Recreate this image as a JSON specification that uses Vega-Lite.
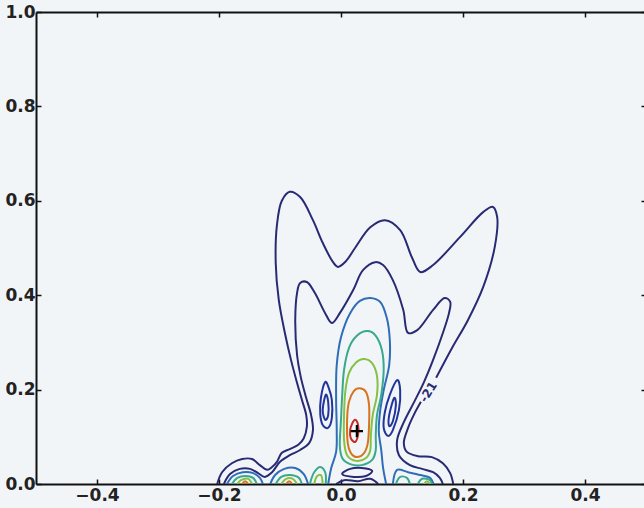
{
  "$schema": "https://vega.github.io/schema/vega-lite/v6.json",
  "width": 610,
  "height": 472,
  "autosize": {"type": "none"},
  "padding": {"left": 36, "top": 12, "right": 0, "bottom": 24},
  "background": "#f2f5f7",
  "config": {
    "view": {"stroke": null},
    "axis": {
      "domainColor": "#111111",
      "domainWidth": 2,
      "tickColor": "#111111",
      "tickWidth": 1.5,
      "tickSize": -5,
      "grid": false,
      "title": null,
      "labelFont": "DejaVu Sans",
      "labelFontSize": 17,
      "labelFontWeight": "bold",
      "labelColor": "#222222"
    }
  },
  "datasets": {
    "contours": [
      {"id": "A1", "l": 1, "c": 0, "i": 0, "x": -0.203, "y": 0.0},
      {"id": "A1", "l": 1, "c": 0, "i": 1, "x": -0.195, "y": 0.025},
      {"id": "A1", "l": 1, "c": 0, "i": 2, "x": -0.179, "y": 0.044},
      {"id": "A1", "l": 1, "c": 0, "i": 3, "x": -0.162, "y": 0.053},
      {"id": "A1", "l": 1, "c": 0, "i": 4, "x": -0.146, "y": 0.053},
      {"id": "A1", "l": 1, "c": 0, "i": 5, "x": -0.133, "y": 0.04},
      {"id": "A1", "l": 1, "c": 0, "i": 6, "x": -0.121, "y": 0.03},
      {"id": "A1", "l": 1, "c": 0, "i": 7, "x": -0.113, "y": 0.036},
      {"id": "A1", "l": 1, "c": 0, "i": 8, "x": -0.105, "y": 0.047},
      {"id": "A1", "l": 1, "c": 0, "i": 9, "x": -0.097, "y": 0.066},
      {"id": "A1", "l": 1, "c": 0, "i": 10, "x": -0.084, "y": 0.074},
      {"id": "A1", "l": 1, "c": 0, "i": 11, "x": -0.07, "y": 0.083},
      {"id": "A1", "l": 1, "c": 0, "i": 12, "x": -0.061, "y": 0.097},
      {"id": "A1", "l": 1, "c": 0, "i": 13, "x": -0.056, "y": 0.121},
      {"id": "A1", "l": 1, "c": 0, "i": 14, "x": -0.057, "y": 0.146},
      {"id": "A1", "l": 1, "c": 0, "i": 15, "x": -0.064, "y": 0.178},
      {"id": "A1", "l": 1, "c": 0, "i": 16, "x": -0.072, "y": 0.214},
      {"id": "A1", "l": 1, "c": 0, "i": 17, "x": -0.082, "y": 0.263},
      {"id": "A1", "l": 1, "c": 0, "i": 18, "x": -0.092, "y": 0.32},
      {"id": "A1", "l": 1, "c": 0, "i": 19, "x": -0.102, "y": 0.39},
      {"id": "A1", "l": 1, "c": 0, "i": 20, "x": -0.107, "y": 0.468},
      {"id": "A1", "l": 1, "c": 0, "i": 21, "x": -0.105, "y": 0.549},
      {"id": "A1", "l": 1, "c": 0, "i": 22, "x": -0.097, "y": 0.6},
      {"id": "A1", "l": 1, "c": 0, "i": 23, "x": -0.084, "y": 0.619},
      {"id": "A1", "l": 1, "c": 0, "i": 24, "x": -0.067, "y": 0.608},
      {"id": "A1", "l": 1, "c": 0, "i": 25, "x": -0.046, "y": 0.559},
      {"id": "A1", "l": 1, "c": 0, "i": 26, "x": -0.03, "y": 0.511},
      {"id": "A1", "l": 1, "c": 0, "i": 27, "x": -0.013, "y": 0.47},
      {"id": "A1", "l": 1, "c": 0, "i": 28, "x": -0.005, "y": 0.46},
      {"id": "A1", "l": 1, "c": 0, "i": 29, "x": 0.008, "y": 0.472},
      {"id": "A1", "l": 1, "c": 0, "i": 30, "x": 0.023, "y": 0.5},
      {"id": "A1", "l": 1, "c": 0, "i": 31, "x": 0.048, "y": 0.544},
      {"id": "A1", "l": 1, "c": 0, "i": 32, "x": 0.072, "y": 0.559},
      {"id": "A1", "l": 1, "c": 0, "i": 33, "x": 0.097, "y": 0.538},
      {"id": "A1", "l": 1, "c": 0, "i": 34, "x": 0.116, "y": 0.481},
      {"id": "A1", "l": 1, "c": 0, "i": 35, "x": 0.13, "y": 0.449},
      {"id": "A1", "l": 1, "c": 0, "i": 36, "x": 0.151, "y": 0.464},
      {"id": "A1", "l": 1, "c": 0, "i": 37, "x": 0.195, "y": 0.523},
      {"id": "A1", "l": 1, "c": 0, "i": 38, "x": 0.233, "y": 0.576},
      {"id": "A1", "l": 1, "c": 0, "i": 39, "x": 0.249, "y": 0.587},
      {"id": "A1", "l": 1, "c": 0, "i": 40, "x": 0.256, "y": 0.566},
      {"id": "A1", "l": 1, "c": 0, "i": 41, "x": 0.252, "y": 0.502},
      {"id": "A1", "l": 1, "c": 0, "i": 42, "x": 0.233, "y": 0.417},
      {"id": "A1", "l": 1, "c": 0, "i": 43, "x": 0.208, "y": 0.347},
      {"id": "A1", "l": 1, "c": 0, "i": 44, "x": 0.182, "y": 0.288},
      {"id": "A1", "l": 1, "c": 0, "i": 45, "x": 0.156, "y": 0.225},

      {"id": "A2", "l": 1, "c": 0, "i": 0, "x": 0.131, "y": 0.174},
      {"id": "A2", "l": 1, "c": 0, "i": 1, "x": 0.12, "y": 0.148},
      {"id": "A2", "l": 1, "c": 0, "i": 2, "x": 0.11, "y": 0.119},
      {"id": "A2", "l": 1, "c": 0, "i": 3, "x": 0.103, "y": 0.087},
      {"id": "A2", "l": 1, "c": 0, "i": 4, "x": 0.108, "y": 0.068},
      {"id": "A2", "l": 1, "c": 0, "i": 5, "x": 0.126, "y": 0.059},
      {"id": "A2", "l": 1, "c": 0, "i": 6, "x": 0.149, "y": 0.057},
      {"id": "A2", "l": 1, "c": 0, "i": 7, "x": 0.167, "y": 0.044},
      {"id": "A2", "l": 1, "c": 0, "i": 8, "x": 0.179, "y": 0.023},
      {"id": "A2", "l": 1, "c": 0, "i": 9, "x": 0.184, "y": 0.0},

      {"id": "B", "l": 1, "c": 0, "i": 0, "x": -0.192, "y": 0.0},
      {"id": "B", "l": 1, "c": 0, "i": 1, "x": -0.182, "y": 0.021},
      {"id": "B", "l": 1, "c": 0, "i": 2, "x": -0.166, "y": 0.032},
      {"id": "B", "l": 1, "c": 0, "i": 3, "x": -0.149, "y": 0.032},
      {"id": "B", "l": 1, "c": 0, "i": 4, "x": -0.136, "y": 0.023},
      {"id": "B", "l": 1, "c": 0, "i": 5, "x": -0.125, "y": 0.015},
      {"id": "B", "l": 1, "c": 0, "i": 6, "x": -0.113, "y": 0.025},
      {"id": "B", "l": 1, "c": 0, "i": 7, "x": -0.1, "y": 0.047},
      {"id": "B", "l": 1, "c": 0, "i": 8, "x": -0.084, "y": 0.061},
      {"id": "B", "l": 1, "c": 0, "i": 9, "x": -0.067, "y": 0.072},
      {"id": "B", "l": 1, "c": 0, "i": 10, "x": -0.052, "y": 0.087},
      {"id": "B", "l": 1, "c": 0, "i": 11, "x": -0.046, "y": 0.114},
      {"id": "B", "l": 1, "c": 0, "i": 12, "x": -0.049, "y": 0.146},
      {"id": "B", "l": 1, "c": 0, "i": 13, "x": -0.057, "y": 0.182},
      {"id": "B", "l": 1, "c": 0, "i": 14, "x": -0.066, "y": 0.227},
      {"id": "B", "l": 1, "c": 0, "i": 15, "x": -0.072, "y": 0.273},
      {"id": "B", "l": 1, "c": 0, "i": 16, "x": -0.075, "y": 0.347},
      {"id": "B", "l": 1, "c": 0, "i": 17, "x": -0.072, "y": 0.405},
      {"id": "B", "l": 1, "c": 0, "i": 18, "x": -0.067, "y": 0.426},
      {"id": "B", "l": 1, "c": 0, "i": 19, "x": -0.056, "y": 0.428},
      {"id": "B", "l": 1, "c": 0, "i": 20, "x": -0.043, "y": 0.405},
      {"id": "B", "l": 1, "c": 0, "i": 21, "x": -0.026, "y": 0.362},
      {"id": "B", "l": 1, "c": 0, "i": 22, "x": -0.015, "y": 0.341},
      {"id": "B", "l": 1, "c": 0, "i": 23, "x": -0.002, "y": 0.362},
      {"id": "B", "l": 1, "c": 0, "i": 24, "x": 0.02, "y": 0.411},
      {"id": "B", "l": 1, "c": 0, "i": 25, "x": 0.036, "y": 0.453},
      {"id": "B", "l": 1, "c": 0, "i": 26, "x": 0.056, "y": 0.47},
      {"id": "B", "l": 1, "c": 0, "i": 27, "x": 0.069, "y": 0.464},
      {"id": "B", "l": 1, "c": 0, "i": 28, "x": 0.085, "y": 0.432},
      {"id": "B", "l": 1, "c": 0, "i": 29, "x": 0.102, "y": 0.369},
      {"id": "B", "l": 1, "c": 0, "i": 30, "x": 0.11, "y": 0.32},
      {"id": "B", "l": 1, "c": 0, "i": 31, "x": 0.125, "y": 0.326},
      {"id": "B", "l": 1, "c": 0, "i": 32, "x": 0.151, "y": 0.369},
      {"id": "B", "l": 1, "c": 0, "i": 33, "x": 0.17, "y": 0.394},
      {"id": "B", "l": 1, "c": 0, "i": 34, "x": 0.179, "y": 0.386},
      {"id": "B", "l": 1, "c": 0, "i": 35, "x": 0.177, "y": 0.362},
      {"id": "B", "l": 1, "c": 0, "i": 36, "x": 0.167, "y": 0.32},
      {"id": "B", "l": 1, "c": 0, "i": 37, "x": 0.151, "y": 0.263},
      {"id": "B", "l": 1, "c": 0, "i": 38, "x": 0.136, "y": 0.216},
      {"id": "B", "l": 1, "c": 0, "i": 39, "x": 0.12, "y": 0.174},
      {"id": "B", "l": 1, "c": 0, "i": 40, "x": 0.103, "y": 0.131},
      {"id": "B", "l": 1, "c": 0, "i": 41, "x": 0.092, "y": 0.093},
      {"id": "B", "l": 1, "c": 0, "i": 42, "x": 0.095, "y": 0.061},
      {"id": "B", "l": 1, "c": 0, "i": 43, "x": 0.113, "y": 0.04},
      {"id": "B", "l": 1, "c": 0, "i": 44, "x": 0.133, "y": 0.032},
      {"id": "B", "l": 1, "c": 0, "i": 45, "x": 0.151, "y": 0.025},
      {"id": "B", "l": 1, "c": 0, "i": 46, "x": 0.162, "y": 0.013},
      {"id": "B", "l": 1, "c": 0, "i": 47, "x": 0.167, "y": 0.0},

      {"id": "C1", "l": 2, "c": 1, "i": 0, "x": -0.026, "y": 0.216},
      {"id": "C1", "l": 2, "c": 1, "i": 1, "x": -0.033, "y": 0.182},
      {"id": "C1", "l": 2, "c": 1, "i": 2, "x": -0.034, "y": 0.148},
      {"id": "C1", "l": 2, "c": 1, "i": 3, "x": -0.03, "y": 0.125},
      {"id": "C1", "l": 2, "c": 1, "i": 4, "x": -0.021, "y": 0.119},
      {"id": "C1", "l": 2, "c": 1, "i": 5, "x": -0.015, "y": 0.14},
      {"id": "C1", "l": 2, "c": 1, "i": 6, "x": -0.015, "y": 0.178},
      {"id": "C1", "l": 2, "c": 1, "i": 7, "x": -0.02, "y": 0.203},

      {"id": "C2", "l": 2, "c": 1, "i": 0, "x": -0.025, "y": 0.189},
      {"id": "C2", "l": 2, "c": 1, "i": 1, "x": -0.03, "y": 0.157},
      {"id": "C2", "l": 2, "c": 1, "i": 2, "x": -0.026, "y": 0.136},
      {"id": "C2", "l": 2, "c": 1, "i": 3, "x": -0.021, "y": 0.146},
      {"id": "C2", "l": 2, "c": 1, "i": 4, "x": -0.021, "y": 0.174},

      {"id": "D1", "l": 2, "c": 1, "i": 0, "x": 0.092, "y": 0.22},
      {"id": "D1", "l": 2, "c": 1, "i": 1, "x": 0.08, "y": 0.189},
      {"id": "D1", "l": 2, "c": 1, "i": 2, "x": 0.072, "y": 0.153},
      {"id": "D1", "l": 2, "c": 1, "i": 3, "x": 0.07, "y": 0.119},
      {"id": "D1", "l": 2, "c": 1, "i": 4, "x": 0.077, "y": 0.102},
      {"id": "D1", "l": 2, "c": 1, "i": 5, "x": 0.085, "y": 0.114},
      {"id": "D1", "l": 2, "c": 1, "i": 6, "x": 0.095, "y": 0.157},
      {"id": "D1", "l": 2, "c": 1, "i": 7, "x": 0.097, "y": 0.199},

      {"id": "D2", "l": 2, "c": 1, "i": 0, "x": 0.087, "y": 0.182},
      {"id": "D2", "l": 2, "c": 1, "i": 1, "x": 0.079, "y": 0.146},
      {"id": "D2", "l": 2, "c": 1, "i": 2, "x": 0.079, "y": 0.123},
      {"id": "D2", "l": 2, "c": 1, "i": 3, "x": 0.085, "y": 0.133},
      {"id": "D2", "l": 2, "c": 1, "i": 4, "x": 0.09, "y": 0.167},

      {"id": "E3", "l": 3, "c": 0, "i": 0, "x": -0.021, "y": 0.0},
      {"id": "E3", "l": 3, "c": 0, "i": 1, "x": -0.016, "y": 0.034},
      {"id": "E3", "l": 3, "c": 0, "i": 2, "x": -0.008, "y": 0.068},
      {"id": "E3", "l": 3, "c": 0, "i": 3, "x": -0.007, "y": 0.114},
      {"id": "E3", "l": 3, "c": 0, "i": 4, "x": -0.008, "y": 0.178},
      {"id": "E3", "l": 3, "c": 0, "i": 5, "x": -0.007, "y": 0.252},
      {"id": "E3", "l": 3, "c": 0, "i": 6, "x": 0.0, "y": 0.311},
      {"id": "E3", "l": 3, "c": 0, "i": 7, "x": 0.015, "y": 0.362},
      {"id": "E3", "l": 3, "c": 0, "i": 8, "x": 0.031, "y": 0.388},
      {"id": "E3", "l": 3, "c": 0, "i": 9, "x": 0.048, "y": 0.394},
      {"id": "E3", "l": 3, "c": 0, "i": 10, "x": 0.064, "y": 0.386},
      {"id": "E3", "l": 3, "c": 0, "i": 11, "x": 0.075, "y": 0.352},
      {"id": "E3", "l": 3, "c": 0, "i": 12, "x": 0.08, "y": 0.305},
      {"id": "E3", "l": 3, "c": 0, "i": 13, "x": 0.079, "y": 0.252},
      {"id": "E3", "l": 3, "c": 0, "i": 14, "x": 0.07, "y": 0.199},
      {"id": "E3", "l": 3, "c": 0, "i": 15, "x": 0.064, "y": 0.153},
      {"id": "E3", "l": 3, "c": 0, "i": 16, "x": 0.062, "y": 0.11},
      {"id": "E3", "l": 3, "c": 0, "i": 17, "x": 0.066, "y": 0.072},
      {"id": "E3", "l": 3, "c": 0, "i": 18, "x": 0.069, "y": 0.034},
      {"id": "E3", "l": 3, "c": 0, "i": 19, "x": 0.074, "y": 0.0},

      {"id": "E4", "l": 4, "c": 1, "i": 0, "x": 0.043, "y": 0.324},
      {"id": "E4", "l": 4, "c": 1, "i": 1, "x": 0.057, "y": 0.314},
      {"id": "E4", "l": 4, "c": 1, "i": 2, "x": 0.067, "y": 0.284},
      {"id": "E4", "l": 4, "c": 1, "i": 3, "x": 0.07, "y": 0.242},
      {"id": "E4", "l": 4, "c": 1, "i": 4, "x": 0.066, "y": 0.189},
      {"id": "E4", "l": 4, "c": 1, "i": 5, "x": 0.059, "y": 0.146},
      {"id": "E4", "l": 4, "c": 1, "i": 6, "x": 0.057, "y": 0.104},
      {"id": "E4", "l": 4, "c": 1, "i": 7, "x": 0.057, "y": 0.072},
      {"id": "E4", "l": 4, "c": 1, "i": 8, "x": 0.051, "y": 0.051},
      {"id": "E4", "l": 4, "c": 1, "i": 9, "x": 0.034, "y": 0.04},
      {"id": "E4", "l": 4, "c": 1, "i": 10, "x": 0.015, "y": 0.042},
      {"id": "E4", "l": 4, "c": 1, "i": 11, "x": 0.002, "y": 0.055},
      {"id": "E4", "l": 4, "c": 1, "i": 12, "x": -0.002, "y": 0.083},
      {"id": "E4", "l": 4, "c": 1, "i": 13, "x": 0.0, "y": 0.136},
      {"id": "E4", "l": 4, "c": 1, "i": 14, "x": 0.002, "y": 0.189},
      {"id": "E4", "l": 4, "c": 1, "i": 15, "x": 0.005, "y": 0.242},
      {"id": "E4", "l": 4, "c": 1, "i": 16, "x": 0.013, "y": 0.288},
      {"id": "E4", "l": 4, "c": 1, "i": 17, "x": 0.026, "y": 0.314},

      {"id": "E5", "l": 5, "c": 1, "i": 0, "x": 0.038, "y": 0.265},
      {"id": "E5", "l": 5, "c": 1, "i": 1, "x": 0.051, "y": 0.256},
      {"id": "E5", "l": 5, "c": 1, "i": 2, "x": 0.059, "y": 0.229},
      {"id": "E5", "l": 5, "c": 1, "i": 3, "x": 0.059, "y": 0.189},
      {"id": "E5", "l": 5, "c": 1, "i": 4, "x": 0.052, "y": 0.146},
      {"id": "E5", "l": 5, "c": 1, "i": 5, "x": 0.049, "y": 0.104},
      {"id": "E5", "l": 5, "c": 1, "i": 6, "x": 0.048, "y": 0.072},
      {"id": "E5", "l": 5, "c": 1, "i": 7, "x": 0.041, "y": 0.055},
      {"id": "E5", "l": 5, "c": 1, "i": 8, "x": 0.025, "y": 0.049},
      {"id": "E5", "l": 5, "c": 1, "i": 9, "x": 0.01, "y": 0.061},
      {"id": "E5", "l": 5, "c": 1, "i": 10, "x": 0.005, "y": 0.093},
      {"id": "E5", "l": 5, "c": 1, "i": 11, "x": 0.005, "y": 0.146},
      {"id": "E5", "l": 5, "c": 1, "i": 12, "x": 0.007, "y": 0.195},
      {"id": "E5", "l": 5, "c": 1, "i": 13, "x": 0.013, "y": 0.235},
      {"id": "E5", "l": 5, "c": 1, "i": 14, "x": 0.025, "y": 0.258},

      {"id": "E6", "l": 6, "c": 1, "i": 0, "x": 0.031, "y": 0.203},
      {"id": "E6", "l": 6, "c": 1, "i": 1, "x": 0.041, "y": 0.195},
      {"id": "E6", "l": 6, "c": 1, "i": 2, "x": 0.046, "y": 0.167},
      {"id": "E6", "l": 6, "c": 1, "i": 3, "x": 0.046, "y": 0.125},
      {"id": "E6", "l": 6, "c": 1, "i": 4, "x": 0.044, "y": 0.087},
      {"id": "E6", "l": 6, "c": 1, "i": 5, "x": 0.038, "y": 0.066},
      {"id": "E6", "l": 6, "c": 1, "i": 6, "x": 0.026, "y": 0.057},
      {"id": "E6", "l": 6, "c": 1, "i": 7, "x": 0.016, "y": 0.066},
      {"id": "E6", "l": 6, "c": 1, "i": 8, "x": 0.011, "y": 0.087},
      {"id": "E6", "l": 6, "c": 1, "i": 9, "x": 0.01, "y": 0.136},
      {"id": "E6", "l": 6, "c": 1, "i": 10, "x": 0.013, "y": 0.174},
      {"id": "E6", "l": 6, "c": 1, "i": 11, "x": 0.021, "y": 0.197},

      {"id": "E7", "l": 7, "c": 1, "i": 0, "x": 0.023, "y": 0.136},
      {"id": "E7", "l": 7, "c": 1, "i": 1, "x": 0.028, "y": 0.125},
      {"id": "E7", "l": 7, "c": 1, "i": 2, "x": 0.028, "y": 0.104},
      {"id": "E7", "l": 7, "c": 1, "i": 3, "x": 0.023, "y": 0.089},
      {"id": "E7", "l": 7, "c": 1, "i": 4, "x": 0.016, "y": 0.097},
      {"id": "E7", "l": 7, "c": 1, "i": 5, "x": 0.015, "y": 0.114},
      {"id": "E7", "l": 7, "c": 1, "i": 6, "x": 0.018, "y": 0.127},

      {"id": "BL3", "l": 3, "c": 0, "i": 0, "x": -0.187, "y": 0.0},
      {"id": "BL3", "l": 3, "c": 0, "i": 1, "x": -0.177, "y": 0.017},
      {"id": "BL3", "l": 3, "c": 0, "i": 2, "x": -0.161, "y": 0.025},
      {"id": "BL3", "l": 3, "c": 0, "i": 3, "x": -0.144, "y": 0.023},
      {"id": "BL3", "l": 3, "c": 0, "i": 4, "x": -0.133, "y": 0.013},
      {"id": "BL3", "l": 3, "c": 0, "i": 5, "x": -0.128, "y": 0.0},
      {"id": "BL4", "l": 4, "c": 0, "i": 0, "x": -0.179, "y": 0.0},
      {"id": "BL4", "l": 4, "c": 0, "i": 1, "x": -0.17, "y": 0.013},
      {"id": "BL4", "l": 4, "c": 0, "i": 2, "x": -0.157, "y": 0.017},
      {"id": "BL4", "l": 4, "c": 0, "i": 3, "x": -0.144, "y": 0.013},
      {"id": "BL4", "l": 4, "c": 0, "i": 4, "x": -0.138, "y": 0.0},
      {"id": "BL5", "l": 5, "c": 0, "i": 0, "x": -0.17, "y": 0.0},
      {"id": "BL5", "l": 5, "c": 0, "i": 1, "x": -0.164, "y": 0.008},
      {"id": "BL5", "l": 5, "c": 0, "i": 2, "x": -0.152, "y": 0.011},
      {"id": "BL5", "l": 5, "c": 0, "i": 3, "x": -0.146, "y": 0.0},
      {"id": "BL6", "l": 6, "c": 0, "i": 0, "x": -0.162, "y": 0.0},
      {"id": "BL6", "l": 6, "c": 0, "i": 1, "x": -0.157, "y": 0.006},
      {"id": "BL6", "l": 6, "c": 0, "i": 2, "x": -0.152, "y": 0.0},

      {"id": "M3", "l": 3, "c": 0, "i": 0, "x": -0.116, "y": 0.0},
      {"id": "M3", "l": 3, "c": 0, "i": 1, "x": -0.108, "y": 0.019},
      {"id": "M3", "l": 3, "c": 0, "i": 2, "x": -0.093, "y": 0.032},
      {"id": "M3", "l": 3, "c": 0, "i": 3, "x": -0.075, "y": 0.034},
      {"id": "M3", "l": 3, "c": 0, "i": 4, "x": -0.061, "y": 0.021},
      {"id": "M3", "l": 3, "c": 0, "i": 5, "x": -0.054, "y": 0.0},
      {"id": "M4", "l": 4, "c": 0, "i": 0, "x": -0.107, "y": 0.0},
      {"id": "M4", "l": 4, "c": 0, "i": 1, "x": -0.098, "y": 0.015},
      {"id": "M4", "l": 4, "c": 0, "i": 2, "x": -0.084, "y": 0.019},
      {"id": "M4", "l": 4, "c": 0, "i": 3, "x": -0.069, "y": 0.013},
      {"id": "M4", "l": 4, "c": 0, "i": 4, "x": -0.064, "y": 0.0},
      {"id": "M5", "l": 5, "c": 0, "i": 0, "x": -0.098, "y": 0.0},
      {"id": "M5", "l": 5, "c": 0, "i": 1, "x": -0.09, "y": 0.011},
      {"id": "M5", "l": 5, "c": 0, "i": 2, "x": -0.079, "y": 0.011},
      {"id": "M5", "l": 5, "c": 0, "i": 3, "x": -0.072, "y": 0.0},
      {"id": "M6", "l": 6, "c": 0, "i": 0, "x": -0.09, "y": 0.0},
      {"id": "M6", "l": 6, "c": 0, "i": 1, "x": -0.085, "y": 0.006},
      {"id": "M6", "l": 6, "c": 0, "i": 2, "x": -0.08, "y": 0.0},

      {"id": "CL4", "l": 4, "c": 0, "i": 0, "x": -0.051, "y": 0.0},
      {"id": "CL4", "l": 4, "c": 0, "i": 1, "x": -0.044, "y": 0.025},
      {"id": "CL4", "l": 4, "c": 0, "i": 2, "x": -0.034, "y": 0.036},
      {"id": "CL4", "l": 4, "c": 0, "i": 3, "x": -0.026, "y": 0.025},
      {"id": "CL4", "l": 4, "c": 0, "i": 4, "x": -0.025, "y": 0.0},
      {"id": "CL5", "l": 5, "c": 0, "i": 0, "x": -0.044, "y": 0.0},
      {"id": "CL5", "l": 5, "c": 0, "i": 1, "x": -0.039, "y": 0.017},
      {"id": "CL5", "l": 5, "c": 0, "i": 2, "x": -0.033, "y": 0.019},
      {"id": "CL5", "l": 5, "c": 0, "i": 3, "x": -0.03, "y": 0.0},

      {"id": "N1", "l": 1, "c": 1, "i": 0, "x": 0.002, "y": 0.021},
      {"id": "N1", "l": 1, "c": 1, "i": 1, "x": 0.015, "y": 0.032},
      {"id": "N1", "l": 1, "c": 1, "i": 2, "x": 0.034, "y": 0.034},
      {"id": "N1", "l": 1, "c": 1, "i": 3, "x": 0.051, "y": 0.028},
      {"id": "N1", "l": 1, "c": 1, "i": 4, "x": 0.041, "y": 0.017},
      {"id": "N1", "l": 1, "c": 1, "i": 5, "x": 0.021, "y": 0.015},
      {"id": "N2", "l": 1, "c": 0, "i": 0, "x": -0.008, "y": 0.0},
      {"id": "N2", "l": 1, "c": 0, "i": 1, "x": 0.005, "y": 0.008},
      {"id": "N2", "l": 1, "c": 0, "i": 2, "x": 0.028, "y": 0.006},
      {"id": "N2", "l": 1, "c": 0, "i": 3, "x": 0.048, "y": 0.011},
      {"id": "N2", "l": 1, "c": 0, "i": 4, "x": 0.061, "y": 0.0},

      {"id": "R3", "l": 3, "c": 0, "i": 0, "x": 0.085, "y": 0.0},
      {"id": "R3", "l": 3, "c": 0, "i": 1, "x": 0.092, "y": 0.03},
      {"id": "R3", "l": 3, "c": 0, "i": 2, "x": 0.11, "y": 0.025},
      {"id": "R3", "l": 3, "c": 0, "i": 3, "x": 0.13, "y": 0.019},
      {"id": "R3", "l": 3, "c": 0, "i": 4, "x": 0.146, "y": 0.013},
      {"id": "R3", "l": 3, "c": 0, "i": 5, "x": 0.152, "y": 0.0},
      {"id": "R4a", "l": 4, "c": 0, "i": 0, "x": 0.09, "y": 0.0},
      {"id": "R4a", "l": 4, "c": 0, "i": 1, "x": 0.097, "y": 0.015},
      {"id": "R4a", "l": 4, "c": 0, "i": 2, "x": 0.108, "y": 0.013},
      {"id": "R4a", "l": 4, "c": 0, "i": 3, "x": 0.113, "y": 0.0},
      {"id": "R4b", "l": 4, "c": 0, "i": 0, "x": 0.126, "y": 0.0},
      {"id": "R4b", "l": 4, "c": 0, "i": 1, "x": 0.133, "y": 0.011},
      {"id": "R4b", "l": 4, "c": 0, "i": 2, "x": 0.146, "y": 0.008},
      {"id": "R4b", "l": 4, "c": 0, "i": 3, "x": 0.149, "y": 0.0},
      {"id": "R5", "l": 5, "c": 0, "i": 0, "x": 0.136, "y": 0.0},
      {"id": "R5", "l": 5, "c": 0, "i": 1, "x": 0.141, "y": 0.006},
      {"id": "R5", "l": 5, "c": 0, "i": 2, "x": 0.146, "y": 0.0}
    ]
  },
  "layer": [
    {
      "data": {"name": "contours"},
      "transform": [{"filter": "datum.c == 0"}],
      "mark": {"type": "line", "interpolate": "catmull-rom", "strokeWidth": 2, "clip": true},
      "encoding": {
        "x": {
          "field": "x", "type": "quantitative",
          "scale": {"domain": [-0.5, 0.5], "nice": false, "zero": false},
          "axis": {"orient": "bottom", "values": [-0.4, -0.2, 0, 0.2, 0.4], "format": ".1f",
                   "labelExpr": "replace(datum.label, '-', '−')", "labelPadding": 8}
        },
        "y": {
          "field": "y", "type": "quantitative",
          "scale": {"domain": [0, 1], "nice": false},
          "axis": {"orient": "left", "values": [0, 0.2, 0.4, 0.6, 0.8, 1.0], "format": ".1f", "labelPadding": 6}
        },
        "color": {
          "field": "l", "type": "ordinal",
          "scale": {"domain": [1, 2, 3, 4, 5, 6, 7],
                    "range": ["#282a74", "#22359a", "#2f6db8", "#3aa88e", "#84c247", "#d6741f", "#c42a24"]},
          "legend": null
        },
        "detail": {"field": "id"},
        "order": {"field": "i", "type": "quantitative"}
      }
    },
    {
      "data": {"name": "contours"},
      "transform": [{"filter": "datum.c == 1"}],
      "mark": {"type": "line", "interpolate": "cardinal-closed", "strokeWidth": 2, "clip": true},
      "encoding": {
        "x": {
          "field": "x", "type": "quantitative",
          "scale": {"domain": [-0.5, 0.5], "nice": false, "zero": false},
          "axis": {"orient": "top", "values": [-0.4, -0.2, 0, 0.2, 0.4], "labels": false}
        },
        "y": {
          "field": "y", "type": "quantitative",
          "scale": {"domain": [0, 1], "nice": false},
          "axis": {"orient": "right", "values": [0, 0.2, 0.4, 0.6, 0.8, 1.0], "labels": false}
        },
        "color": {
          "field": "l", "type": "ordinal",
          "scale": {"domain": [1, 2, 3, 4, 5, 6, 7],
                    "range": ["#282a74", "#22359a", "#2f6db8", "#3aa88e", "#84c247", "#d6741f", "#c42a24"]},
          "legend": null
        },
        "detail": {"field": "id"},
        "order": {"field": "i", "type": "quantitative"}
      }
    },
    {
      "data": {"values": [{"t": "-21", "x": 0.143, "y": 0.195}]},
      "mark": {"type": "text", "angle": 302, "font": "DejaVu Sans", "fontSize": 12, "fontWeight": "bold", "color": "#282a74", "align": "center", "baseline": "middle"},
      "encoding": {
        "x": {"field": "x", "type": "quantitative", "axis": null},
        "y": {"field": "y", "type": "quantitative", "axis": null},
        "text": {"field": "t"}
      }
    },
    {
      "data": {"values": [{"x": 0.026, "y": 0.112}]},
      "mark": {"type": "point", "shape": "M-1,0L1,0M0,-1L0,1", "size": 150, "filled": false, "stroke": "#000000", "strokeWidth": 2.2, "opacity": 1},
      "encoding": {
        "x": {"field": "x", "type": "quantitative", "axis": null},
        "y": {"field": "y", "type": "quantitative", "axis": null}
      }
    }
  ],
  "resolve": {"axis": {"x": "independent", "y": "independent"}}
}
